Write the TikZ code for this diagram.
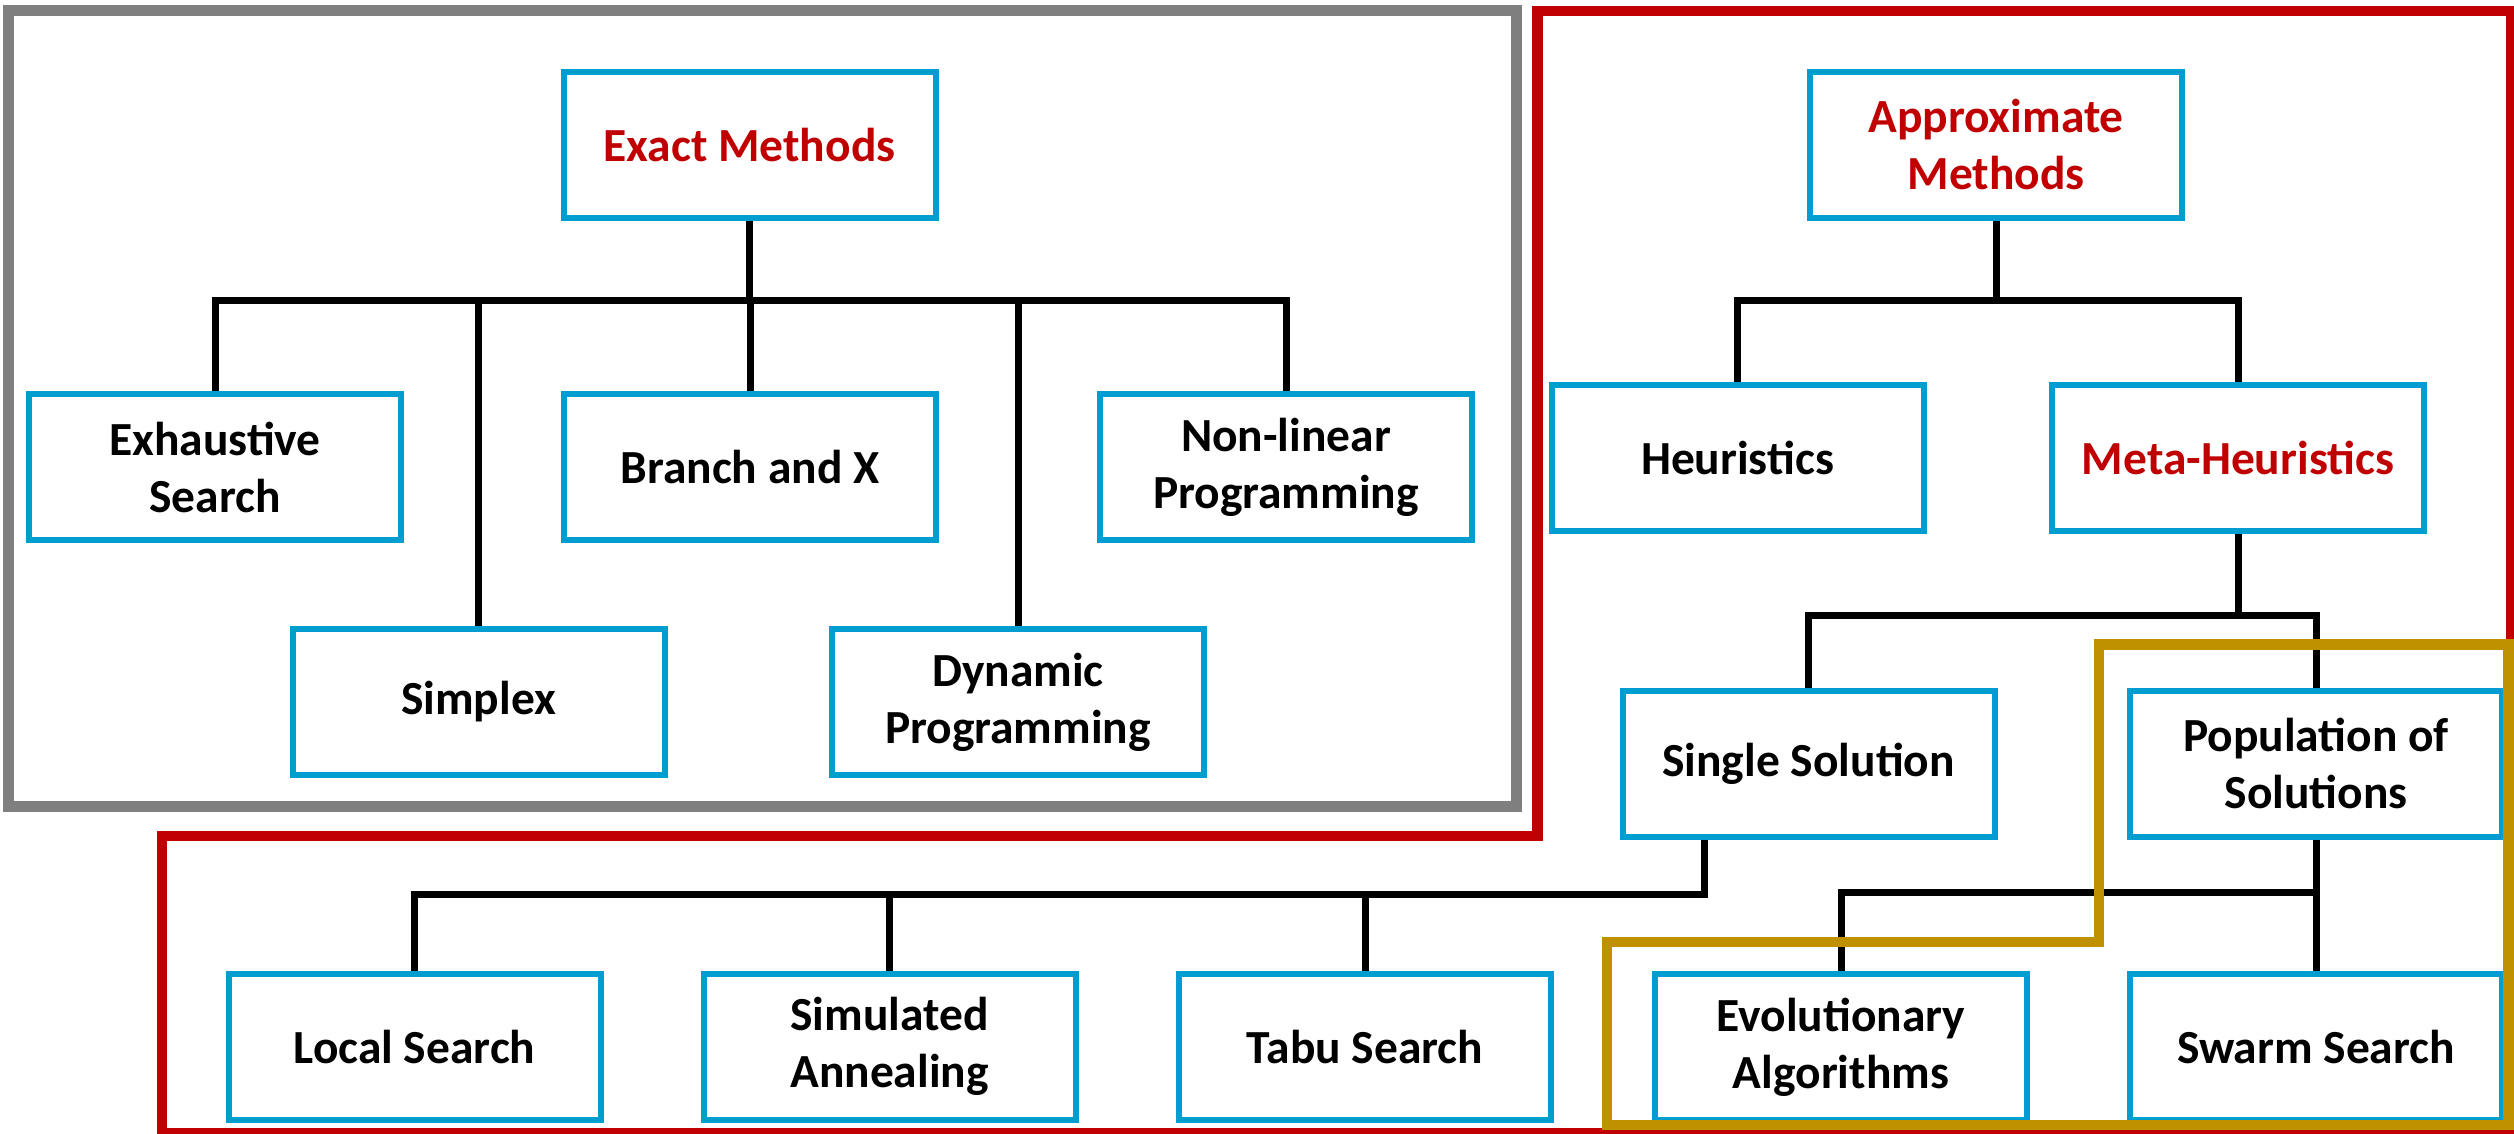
\documentclass[tikz,border=0pt]{standalone}
\usepackage{fontspec}
\setmainfont{Carlito}
\usetikzlibrary{backgrounds}
\definecolor{boxblue}{RGB}{0,158,208}
\definecolor{accred}{RGB}{192,0,0}
\definecolor{framered}{RGB}{192,0,0}
\definecolor{framegray}{RGB}{127,127,127}
\definecolor{framegold}{RGB}{191,144,0}
\tikzset{
  box/.style={draw=boxblue, line width=6pt, fill=white, minimum width=372pt,
    minimum height=146pt, inner sep=0pt, align=center,
    font=\fontsize{47.5}{57}\selectfont\bfseries},
  hot/.style={text=accred},
  conn/.style={line width=7pt, draw=black},
  frame/.style={line width=10.5pt, line join=miter}
}
\begin{document}
\begin{tikzpicture}[x=1pt,y=-1pt]
\clip (0,0) rectangle (2514,1134);

% levels of the horizontal bars
\coordinate (ebar) at (0,300);
\coordinate (abar) at (0,300);
\coordinate (mbar) at (0,615.5);
\coordinate (sdrop) at (1704,894);
\coordinate (pbar) at (0,892.5);

% exact methods
\node[box,hot] (exact)   at (749.5,145.5) {Exact Methods};
\node[box]     (exh)     at (215,467)     {Exhaustive\\Search};
\node[box]     (branch)  at (750,467)     {Branch and X};
\node[box]     (nonlin)  at (1286,467)    {Non-linear\\Programming};
\node[box]     (simplex) at (478.5,702)   {Simplex};
\node[box]     (dynamic) at (1018,702)    {Dynamic\\Programming};

% approximate methods
\node[box,hot] (approx)  at (1996,145)    {Approximate\\Methods};
\node[box]     (heur)    at (1737.5,458)  {Heuristics};
\node[box,hot] (meta)    at (2238,458)    {Meta-Heuristics};
\node[box]     (single)  at (1808.5,763.5){Single Solution};
\node[box]     (pop)     at (2316,763.5)  {Population of\\Solutions};
\node[box]     (local)   at (414.5,1046.5){Local Search};
\node[box]     (sim)     at (889.5,1046.5){Simulated\\Annealing};
\node[box]     (tabu)    at (1365,1046.5) {Tabu Search};
\node[box]     (evo)     at (1841,1047)   {Evolutionary\\Algorithms};
\node[box]     (swarm)   at (2316,1047)   {Swarm Search};

\begin{scope}[on background layer]
\fill[white] (0,0) rectangle (2514,1134);
\end{scope}

% tree connectors, kept behind the boxes
\begin{scope}[on background layer]
\draw[conn] (exact.south) -- (exact.south |- ebar);
\draw[conn] (exh.north) |- (nonlin.north |- ebar) -- (nonlin.north);
\draw[conn] (branch.north) -- (branch.north |- ebar);
\draw[conn] (simplex.north) -- (simplex.north |- ebar);
\draw[conn] (dynamic.north) -- (dynamic.north |- ebar);

\draw[conn] (approx.south) -- (approx.south |- abar);
\draw[conn] (heur.north) |- (meta.north |- abar) -- (meta.north);

\draw[conn] (meta.south) -- (meta.south |- mbar);
\draw[conn] (single.north) |- (pop.north |- mbar) -- (pop.north);

\draw[conn] (single.south -| sdrop) -- (sdrop) -| (local.north);
\draw[conn] (sim.north) -- (sim.north |- sdrop);
\draw[conn] (tabu.north) -- (tabu.north |- sdrop);

\draw[conn] (pop.south) -- (swarm.north);
\draw[conn] (evo.north) |- (pop.south |- pbar);
\end{scope}

% grouping frames
\draw[frame, framegray, line width=11pt] (8.5,10.5) rectangle (1516.5,806.5);
\draw[frame, framered] (1537.5,11) -- (2511,11) -- (2511,1133) -- (162,1133)
  -- (162,836) -- (1537.5,836) -- cycle;
\draw[frame, framegold] (2099,644.5) -- (2508.5,644.5) -- (2508.5,1125)
  -- (1607,1125) -- (1607,942) -- (2099,942) -- cycle;
\end{tikzpicture}
\end{document}
